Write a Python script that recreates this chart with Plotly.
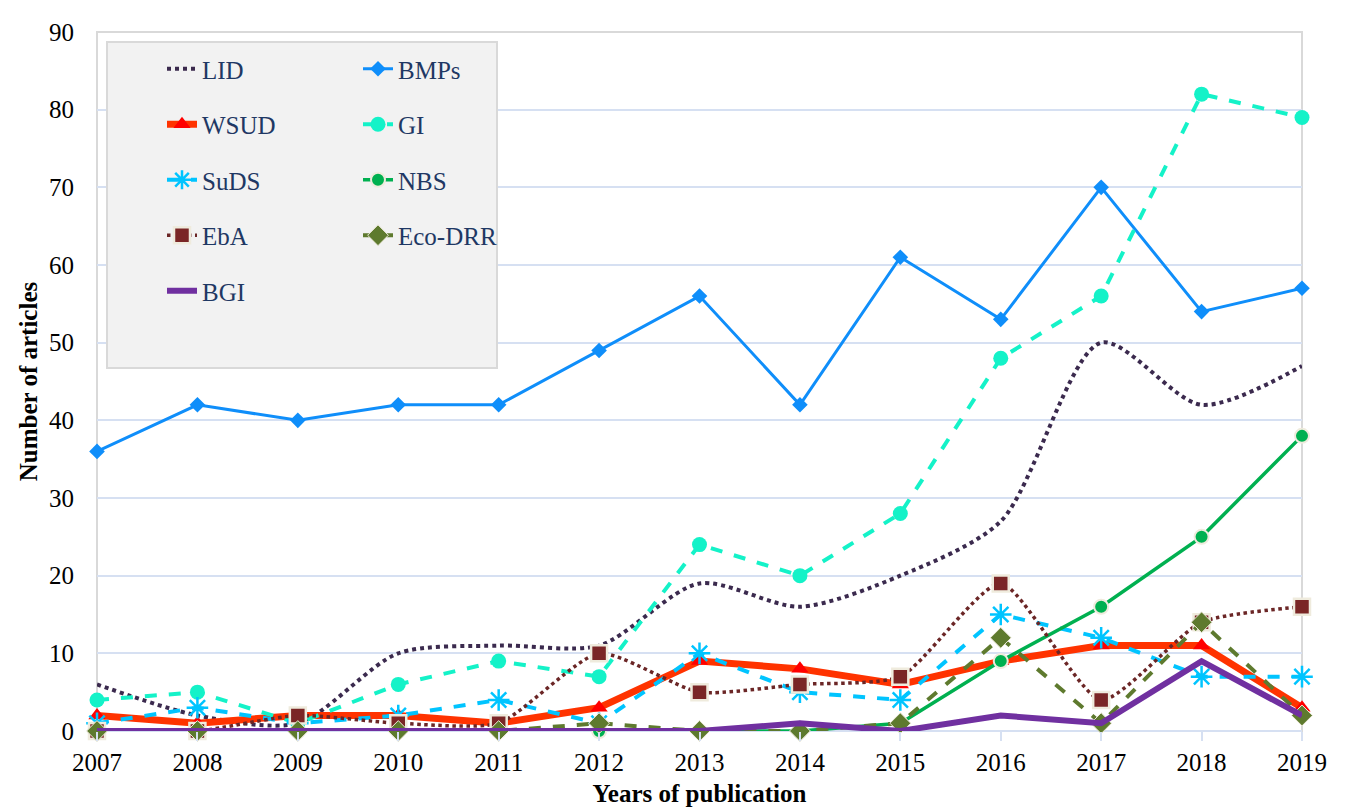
import plotly.graph_objects as go

years = [2007, 2008, 2009, 2010, 2011, 2012, 2013, 2014, 2015, 2016, 2017, 2018, 2019]
lid = [6, 2, 1, 10, 11, 11, 19, 16, 20, 27, 50, 42, 47]
bmps = [36, 42, 40, 42, 42, 49, 56, 42, 61, 53, 70, 54, 57]
wsud = [2, 1, 2, 2, 1, 3, 9, 8, 6, 9, 11, 11, 3]
gi = [4, 5, 1, 6, 9, 7, 24, 20, 28, 48, 56, 82, 79]
suds = [1, 3, 1, 2, 4, 1, 10, 5, 4, 15, 12, 7, 7]
nbs = [0, 0, 0, 0, 0, 0, 0, 0, 1, 9, 16, 25, 38]
eba = [0, 0, 2, 1, 1, 10, 5, 6, 7, 19, 4, 14, 16]
ecodrr = [0, 0, 0, 0, 0, 1, 0, 0, 1, 12, 1, 14, 2]
bgi = [0, 0, 0, 0, 0, 0, 0, 1, 0, 2, 1, 9, 2]

# page body has an 8px margin; figure sized to fill the rest of the window
OFF = 8
W, H = 1349 - OFF, 807 - OFF
PL, PR, PT, PB = 97, 1302, 32, 731  # plot area in screen pixels
ML, MT = PL - OFF, PT - OFF
MR, MB = W - (PR - OFF), H - (PB - OFF)
PW, PH = PR - PL, PB - PT


def px(x):
    return (x - PL) / PW


def py(y):
    return (PB - y) / PH


fig = go.Figure()

fig.add_trace(go.Scatter(x=years, y=lid, name="LID", mode="lines", line=dict(color="#3B2A4E", width=4, dash="dot", shape="spline", smoothing=0.8),
                         legend="legend", legendgroup="a1", cliponaxis=False))
fig.add_trace(go.Scatter(x=years, y=bmps, name="BMPs", mode="lines+markers", line=dict(color="#0F8EFA", width=3),
                         marker=dict(symbol="diamond", size=12, color="#0F8EFA"), legend="legend2", legendgroup="b1", cliponaxis=False))
fig.add_trace(go.Scatter(x=years, y=wsud, name="WSUD", mode="lines+markers", line=dict(color="#FF3300", width=7),
                         marker=dict(symbol="triangle-up", size=15, color="#FF0000"), legend="legend", legendgroup="a2", cliponaxis=False))
fig.add_trace(go.Scatter(x=years, y=gi, name="GI", mode="lines+markers", line=dict(color="#14F2C8", width=4, dash="dash"),
                         marker=dict(symbol="circle", size=15, color="#14F2C8"), legend="legend2", legendgroup="b2", cliponaxis=False))
fig.add_trace(go.Scatter(x=years, y=suds, name="SuDS", mode="lines+markers", line=dict(color="#00C4FF", width=4, dash="dash"),
                         marker=dict(symbol="asterisk-open", size=18, color="#00C4FF", line=dict(color="#00C4FF", width=2.5)),
                         legend="legend", legendgroup="a3", cliponaxis=False))
fig.add_trace(go.Scatter(x=years, y=nbs, name="NBS", mode="lines+markers", line=dict(color="#00B050", width=3.5),
                         marker=dict(symbol="circle", size=14, color="#00B050", line=dict(color="#EFEBDD", width=2)),
                         legend="legend2", legendgroup="b3", cliponaxis=False))
fig.add_trace(go.Scatter(x=years, y=eba, name="EbA", mode="lines+markers", line=dict(color="#6B2626", width=3.5, dash="dot", shape="spline", smoothing=0.6),
                         marker=dict(symbol="square", size=16, color="#7A2626", line=dict(color="#EFEBDD", width=2.5)),
                         legend="legend", legendgroup="a4", cliponaxis=False))
fig.add_trace(go.Scatter(x=years, y=ecodrr, name="Eco-DRR", mode="lines+markers", line=dict(color="#5E7A2E", width=4, dash="dash"),
                         marker=dict(symbol="diamond", size=16, color="#5E7A2E", line=dict(color="#EFEBDD", width=1)),
                         legend="legend2", legendgroup="b4", cliponaxis=False))
fig.add_trace(go.Scatter(x=years, y=bgi, name="BGI", mode="lines", line=dict(color="#7030A0", width=6),
                         legend="legend", legendgroup="a5", cliponaxis=False))

legend_font = dict(family="Liberation Serif, Times New Roman, serif", size=25, color="#1F3864")
common_leg = dict(bgcolor="rgba(0,0,0,0)", font=legend_font, traceorder="grouped", tracegroupgap=20,
                  orientation="v", xanchor="left", yanchor="top", itemwidth=30)

fig.update_layout(
    width=W, height=H,
    margin=dict(l=ML, r=MR, t=MT, b=MB, autoexpand=False),
    paper_bgcolor="white", plot_bgcolor="white",
    font=dict(family="Liberation Serif, Times New Roman, serif", color="black"),
    legend=dict(x=px(162), y=py(46), **common_leg),
    legend2=dict(x=px(358), y=py(46), **common_leg),
    xaxis=dict(range=[2007, 2019], tickvals=years, ticktext=[str(y) for y in years],
               showgrid=False, zeroline=False, showline=False, automargin=False,
               ticks="outside", ticklen=9, tickcolor="#D6E0F2", tickwidth=2,
               tickfont=dict(size=25, color="black"),
               title=dict(text="<b>Years of publication</b>", font=dict(size=25, color="black"), standoff=10)),
    yaxis=dict(range=[0, 90], dtick=10, showgrid=True, gridcolor="#D6E0F2", gridwidth=2,
               zeroline=False, showline=False, ticks="", ticklabelstandoff=22, automargin=False,
               tickfont=dict(size=25, color="black"),
               title=dict(text="<b>Number of articles</b>", font=dict(size=25, color="black"), standoff=4)),
    showlegend=True,
    shapes=[
        # outer chart border
        dict(type="rect", xref="paper", yref="paper", x0=px(6), x1=px(1344), y0=py(812), y1=py(7),
             line=dict(color="#D6E0F2", width=2), fillcolor="rgba(0,0,0,0)", layer="below"),
        # plot area border
        dict(type="rect", xref="paper", yref="paper", x0=0, x1=1, y0=0, y1=1,
             line=dict(color="#D9D9D9", width=2), fillcolor="rgba(0,0,0,0)", layer="below"),
        # x axis line
        dict(type="line", xref="paper", yref="paper", x0=0, x1=1, y0=0, y1=0,
             line=dict(color="#D6E0F2", width=2), layer="below"),
        # legend box
        dict(type="rect", xref="paper", yref="paper", x0=px(107), x1=px(497), y0=py(368), y1=py(42),
             line=dict(color="#D9D9D9", width=2), fillcolor="#F2F2F2", layer="above"),
    ],
)

fig.write_html("out.html")
